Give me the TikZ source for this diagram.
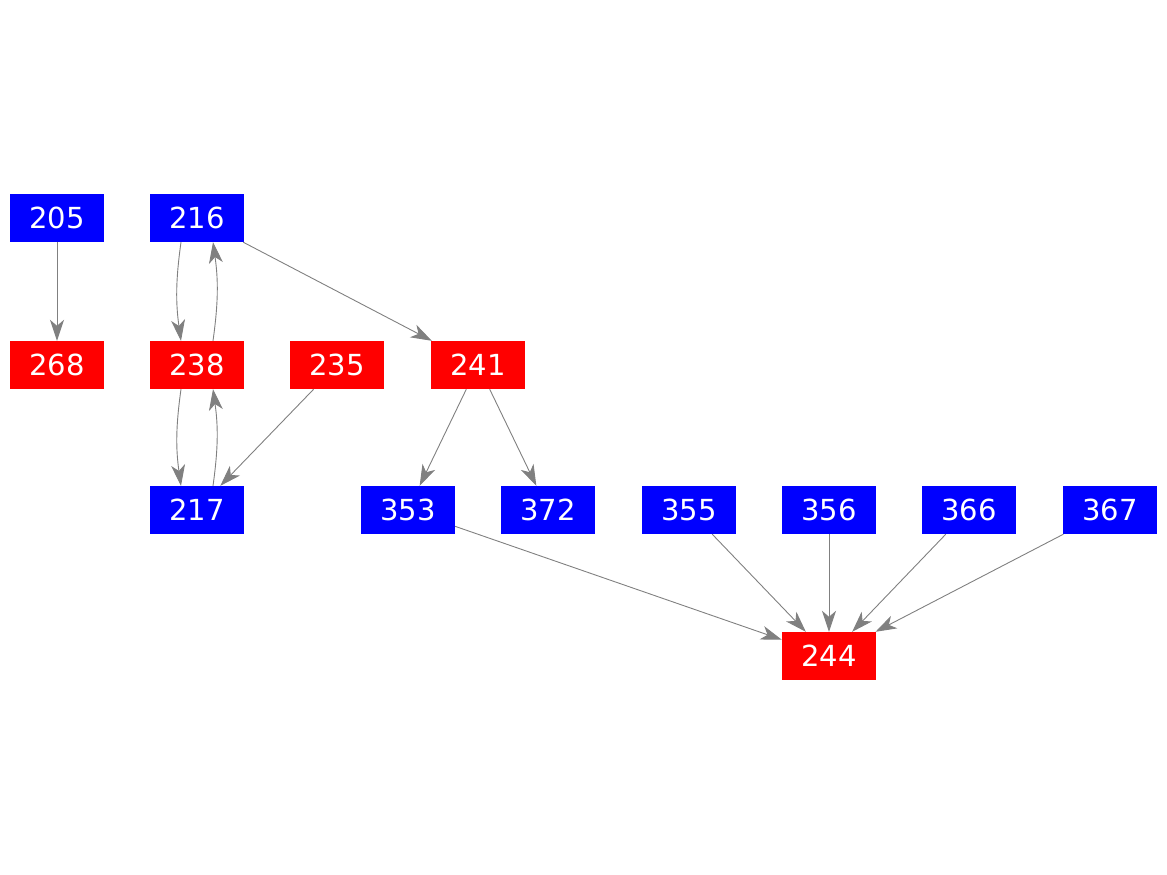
\documentclass[tikz,border=0pt]{standalone}
\usepackage{fontspec}
\setmainfont{DejaVu Sans}
\usetikzlibrary{arrows.meta}
\definecolor{eg}{RGB}{128,128,128}
\begin{document}
\begin{tikzpicture}[x=1pt,y=1pt,
  bn/.style={fill=blue,text=white,minimum width=94pt,minimum height=48pt,inner sep=0pt,font=\fontsize{29}{29}\selectfont},
  rn/.style={bn,fill=red},
  e/.style={draw=eg,line width=0.9pt,-{Stealth[length=21pt,width=14pt,inset=6pt]}}]
\useasboundingbox (0,0) rectangle (1167,-875);
\node[bn] (n205) at (57,-218) {205};
\node[bn] (n216) at (197,-218) {216};
\node[rn] (n268) at (57,-365) {268};
\node[rn] (n238) at (197,-365) {238};
\node[rn] (n235) at (337,-365) {235};
\node[rn] (n241) at (478,-365) {241};
\node[bn] (n217) at (197,-510) {217};
\node[bn] (n353) at (408,-510) {353};
\node[bn] (n372) at (548,-510) {372};
\node[bn] (n355) at (689,-510) {355};
\node[bn] (n356) at (829,-510) {356};
\node[bn] (n366) at (969,-510) {366};
\node[bn] (n367) at (1110,-510) {367};
\node[rn] (n244) at (829,-656) {244};
\draw[e] (n205) -- (n268);
\draw[e] ([xshift=-16pt]n216.south) to[bend right=8] ([xshift=-16pt]n238.north);
\draw[e] ([xshift=16pt]n238.north) to[bend right=8] ([xshift=16pt]n216.south);
\draw[e] ([xshift=-16pt]n238.south) to[bend right=8] ([xshift=-16pt]n217.north);
\draw[e] ([xshift=16pt]n217.north) to[bend right=8] ([xshift=16pt]n238.south);
\draw[e] (n216) -- (n241);
\draw[e] (n235) -- (n217);
\draw[e] (n241) -- (n353);
\draw[e] (n241) -- (n372);
\draw[e] (n353) -- (n244);
\draw[e] (n355) -- (n244);
\draw[e] (n356) -- (n244);
\draw[e] (n366) -- (n244);
\draw[e] (n367) -- (n244);
\end{tikzpicture}
\end{document}
